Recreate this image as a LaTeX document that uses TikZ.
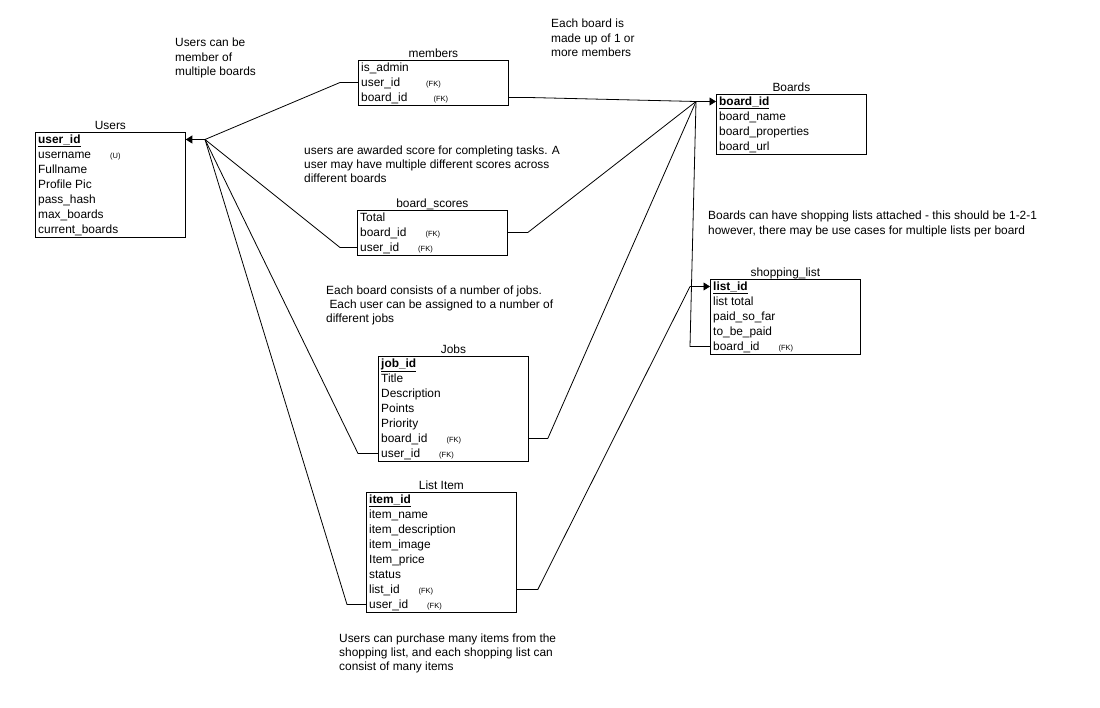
\documentclass[tikz,border=0pt]{standalone}
\usepackage{fontspec}
\setmainfont{Liberation Sans}
\usepackage{tikz}
\usetikzlibrary{arrows.meta, positioning}

\newcommand{\pkey}[1]{\underline{\textbf{#1}}}
\newcommand{\fkey}[2][19pt]{\hspace{#1}{\fontsize{7.5}{8}\selectfont #2}}

\begin{document}
\begin{tikzpicture}[x=1pt, y=-1pt, font=\fontsize{11.9}{14.2}\selectfont,
	tbl/.style={draw, line width=0.8pt, anchor=north west, minimum width=150, inner sep=0pt},
	title/.style={inner sep=0pt, text depth=2.5pt},
	row/.style={anchor=west, inner sep=0pt, text height=9pt, text depth=0.5pt},
	note/.style={anchor=north west, align=left, inner sep=0pt},
	rel/.style={line width=0.8pt},
	one/.style={-{Triangle[length=6.5pt, width=8pt]}}]
		\fill[white] (0,0) rectangle (1100,708);
		
		% tables
		\node[tbl, minimum height=105] (users) at (35,132) {};
		\node[title, above=0pt of users] (t-users) {Users};
		\foreach \fld [count=\i] in {\pkey{user\_id}, username\fkey{(U)}, Fullname, Profile Pic, pass\_hash, max\_boards, current\_boards}
		\node[row] (users-\i) at (38, {124.5+15*\i}) {\fld};
		
		\node[tbl, minimum height=45] (members) at (358,60) {};
		\node[title, above=0pt of members] (t-members) {members};
		\foreach \fld [count=\i] in {is\_admin, user\_id\fkey[26pt]{(FK)}, board\_id\fkey[26pt]{(FK)}}
		\node[row] (members-\i) at (361, {52.5+15*\i}) {\fld};
		
		\node[tbl, minimum height=60] (boards) at (716,94) {};
		\node[title, above=0pt of boards] (t-boards) {Boards};
		\foreach \fld [count=\i] in {\pkey{board\_id}, board\_name, board\_properties, board\_url}
		\node[row] (boards-\i) at (719, {86.5+15*\i}) {\fld};
		
		\node[tbl, minimum height=45] (scores) at (357,210) {};
		\node[title, above=0pt of scores] (t-scores) {board\_scores};
		\foreach \fld [count=\i] in {Total, board\_id\fkey{(FK)}, user\_id\fkey{(FK)}}
		\node[row] (scores-\i) at (360, {202.5+15*\i}) {\fld};
		
		\node[tbl, minimum height=75] (shop) at (710,279) {};
		\node[title, above=0pt of shop] (t-shop) {shopping\_list};
		\foreach \fld [count=\i] in {\pkey{list\_id}, list total, paid\_so\_far, to\_be\_paid, board\_id\fkey{(FK)}}
		\node[row] (shop-\i) at (713, {271.5+15*\i}) {\fld};
		
		\node[tbl, minimum height=105] (jobs) at (378,356) {};
		\node[title, above=0pt of jobs] (t-jobs) {Jobs};
		\foreach \fld [count=\i] in {\pkey{job\_id}, Title, Description, Points, Priority, board\_id\fkey{(FK)}, user\_id\fkey{(FK)}}
		\node[row] (jobs-\i) at (381, {348.5+15*\i}) {\fld};
		
		\node[tbl, minimum height=120] (item) at (366,492) {};
		\node[title, above=0pt of item] (t-item) {List Item};
		\foreach \fld [count=\i] in {\pkey{item\_id}, item\_name, item\_description, item\_image, Item\_price, status, list\_id\fkey{(FK)}, user\_id\fkey{(FK)}}
		\node[row] (item-\i) at (369, {484.5+15*\i}) {\fld};
		
		% notes
		\node[note] (n-members) at (175,38) {Users can be\\member of\\multiple boards};
		\node[note] (n-boards) at (551,19) {Each board is\\made up of 1 or\\more members};
		\node[note] (n-scores) at (304,145.5) {users are awarded score for completing tasks. A\\user may have multiple different scores across\\different boards};
		\node[note] (n-jobs) at (326,285.5) {Each board consists of a number of jobs.\\\ Each user can be assigned to a number of\\different jobs};
		\node[note] (n-shop) at (708,211) {Boards can have shopping lists attached - this should be 1-2-1\\however, there may be use cases for multiple lists per board};
		\node[note] (n-item) at (339,633.5) {Users can purchase many items from the\\shopping list, and each shopping list can\\consist of many items};
		
		% users links
		\coordinate (ujoin) at (205,139.5);
		\draw[rel, one] (ujoin) -- (users.east |- users-1);
		\draw[rel] (members.west |- members-2) -- ++(-18,0) -- (ujoin);
		\draw[rel] (scores.west |- scores-3) -- ++(-17,0) -- (ujoin);
		\draw[rel] (jobs.west |- jobs-7) -- ++(-20,0) -- (ujoin);
		\draw[rel] (item.west |- item-8) -- ++(-19,0) -- (ujoin);
		
		% boards links
		\coordinate (bjoin) at (696,101.5);
		\draw[rel, one] (bjoin) -- (boards.west |- boards-1);
		\draw[rel] (members.east |- members-3) -- ++(20,0) -- (bjoin);
		\draw[rel] (scores.east |- scores-2) -- ++(20,0) -- (bjoin);
		\draw[rel] (jobs.east |- jobs-6) -- ++(19,0) -- (bjoin);
		\draw[rel] (shop.west |- shop-5) -- ++(-20,0) -- (bjoin);
		
		% shopping list links
		\coordinate (sjoin) at (690,286.5);
		\draw[rel, one] (sjoin) -- (shop.west |- shop-1);
		\draw[rel] (item.east |- item-7) -- ++(21,0) -- (sjoin);
\end{tikzpicture}
\end{document}
